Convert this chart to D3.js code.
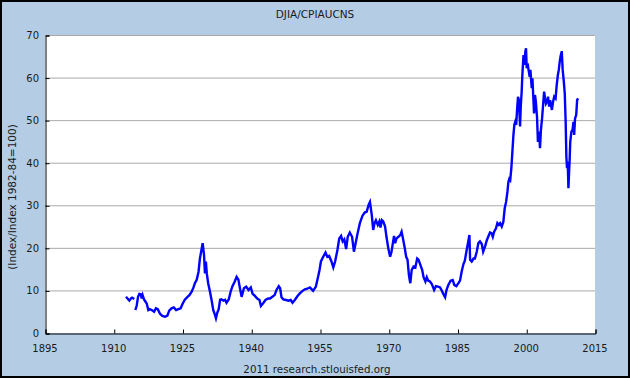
<!DOCTYPE html>
<html>
<head>
<meta charset="utf-8">
<script src="https://cdn.jsdelivr.net/npm/d3@7"></script>
<style>
  body { margin: 0; background: #fff; }
  text { font-family: "DejaVu Sans", Verdana, sans-serif; fill: #1a1a1a; }
</style>
</head>
<body>
<div id="chart"></div>
<script>
// DJIA divided by CPI (fractional years)
const years = [
  1912.67, 1913.0, 1913.4, 1913.8, 1914.0, 1914.49, 1914.6,
  1914.71, 1915.0, 1915.3, 1915.58, 1915.9, 1916.1, 1916.3, 1916.6, 1916.9, 1917.2, 1917.54,
  1917.8, 1918.3, 1918.8, 1919.2, 1919.6, 1920.1, 1920.6, 1921.2, 1921.7, 1922.1, 1922.6,
  1923.1, 1923.6, 1924.1, 1924.6, 1925.0, 1925.5, 1926.1, 1926.5, 1927.0, 1927.4, 1927.7,
  1928.1, 1928.5, 1928.8, 1929.2, 1929.4, 1929.7, 1929.9, 1930.1, 1930.3, 1930.6, 1931.0,
  1931.4, 1931.7, 1932.1, 1932.3, 1932.6, 1932.9, 1933.2, 1933.5, 1933.9, 1934.3, 1934.6,
  1935.1, 1935.5, 1935.9, 1936.4, 1936.8, 1937.2, 1937.5,
  1937.9, 1938.4, 1938.9, 1939.4, 1939.9, 1940.3, 1940.8, 1941.3, 1941.8, 1942.1, 1942.6,
  1943.1, 1943.7, 1944.1, 1944.6, 1945.1, 1945.5, 1946.0, 1946.3, 1946.6, 1947.0, 1947.6,
  1948.1, 1948.6, 1949.0, 1949.5, 1950.1, 1950.6, 1951.2, 1951.7, 1952.2, 1952.8, 1953.2,
  1953.5, 1954.1, 1954.5, 1954.9, 1955.2, 1955.7, 1956.2, 1956.6, 1957.0, 1957.5, 1957.9,
  1958.3, 1958.8, 1959.2, 1959.6, 1959.95, 1960.3, 1960.7, 1961.05, 1961.5, 1962.0, 1962.4,
  1962.9, 1963.2, 1963.7, 1964.25, 1964.75, 1965.2, 1965.6, 1965.9,
  1966.3, 1966.6, 1966.9, 1967.2, 1967.6, 1967.95, 1968.2, 1968.5, 1968.8, 1969.2, 1969.5,
  1969.9, 1970.3, 1970.6, 1970.9, 1971.15, 1971.4, 1971.7, 1972.1, 1972.5, 1972.8, 1973.1,
  1973.5, 1973.8, 1974.1, 1974.4, 1974.7, 1975.0, 1975.4, 1975.8, 1976.2, 1976.5, 1976.9,
  1977.3, 1977.6, 1978.0, 1978.3, 1978.6, 1979.0, 1979.4, 1979.9, 1980.3, 1980.75, 1981.2,
  1981.5, 1981.9, 1982.3, 1982.6, 1983.0, 1983.5, 1983.95, 1984.3, 1984.75, 1985.2, 1985.55,
  1985.9, 1986.3, 1986.6, 1987.0, 1987.4, 1987.6, 1987.75, 1988.1, 1988.5, 1988.8, 1989.2,
  1989.55, 1989.9, 1990.3, 1990.6, 1991.0, 1991.4, 1991.7, 1992.1, 1992.45, 1992.7, 1993.0,
  1993.4, 1993.7, 1994.0, 1994.3, 1994.65, 1995.0, 1995.3, 1995.6, 1995.9, 1996.1, 1996.3,
  1996.5, 1996.75, 1997.0, 1997.2, 1997.4, 1997.6, 1997.8, 1998.0, 1998.2, 1998.4, 1998.65,
  1998.8, 1999.0, 1999.15, 1999.4, 1999.6, 1999.8, 1999.95, 2000.1, 2000.3, 2000.5, 2000.75,
  2000.9, 2001.2, 2001.35, 2001.55, 2001.7, 2001.9, 2002.1, 2002.35, 2002.55, 2002.8, 2003.0,
  2003.2, 2003.45, 2003.65, 2003.9, 2004.1, 2004.3, 2004.5, 2004.75, 2005.0, 2005.2, 2005.4,
  2005.6, 2005.85, 2006.1, 2006.4, 2006.65, 2006.9, 2007.1, 2007.3, 2007.5, 2007.75, 2007.95,
  2008.2, 2008.4, 2008.6, 2008.75, 2008.9, 2009.05, 2009.2, 2009.35, 2009.45, 2009.6, 2009.85,
  2010.1, 2010.3, 2010.45, 2010.65, 2010.9, 2011.1, 2011.3
];
const values = [
  8.5, 8.1, 7.6, 8.2, 8.3, 8.0, null,
  5.4, 6.4, 8.5, 9.2, 9.1, 8.1, 8.9, 7.9, 7.4, 6.9, 5.4,
  5.6, 5.4, 5.0, 5.8, 5.6, 4.5, 4.0, 3.8, 4.1, 5.25, 5.8,
  6.0, 5.4, 5.6, 5.8, 6.8, 7.8, 8.5, 8.9, 9.7, 10.7, 11.7,
  12.5, 14.4, 17.5, 19.9, 21.1, 18.3, 14.0, 16.8, 14.0, 11.7, 9.7,
  7.4, 5.4, 4.2, 3.45, 4.8, 5.6, 7.8, 7.9, 7.6, 7.8, 7.1,
  7.9, 9.7, 11.0, 12.1, 13.2, 12.5, 10.7,
  8.5, 10.5, 10.9, 10.1, 10.7, 9.2, 8.7, 8.1, 7.75, 6.35, 7.0,
  7.75, 8.1, 8.1, 8.5, 8.9, 10.1, 11.0, 10.5, 8.4, 7.9, 7.75,
  7.6, 7.75, 7.1, 7.75, 8.7, 9.3, 9.9, 10.25, 10.4, 10.7, 10.25,
  9.9, 10.9, 12.8, 14.8, 16.8, 17.9, 18.9, 17.9, 18.1, 16.8, 15.4,
  16.8, 19.5, 22.2, 22.8, 21.5, 22.0, 19.7, 22.6, 23.6, 22.6, 19.1,
  21.8, 23.4, 25.8, 27.5, 28.3, 28.5, 30.1, 30.8,
  27.7, 24.2, 25.8, 26.5, 25.4, 26.2, 24.8, 26.5, 26.2, 25.0, 22.6,
  19.9, 17.9, 19.1, 21.1, 22.8, 21.1, 22.2, 22.6, 23.0, 23.8, 22.2,
  19.9, 17.9, 17.2, 13.6, 11.7, 14.8, 15.6, 15.4, 17.5, 17.2, 16.0,
  14.8, 13.1, 12.1, 13.1, 12.3, 12.1, 11.5, 10.1, 11.0, 10.9, 10.7,
  10.1, 9.2, 8.4, 10.1, 11.3, 12.3, 12.45, 11.3, 11.0, 11.7, 12.3,
  14.4, 16.2, 17.0, 19.5, 21.8, 23.0, 17.2, 16.8, 17.5, 17.5, 19.1,
  21.1, 21.5, 20.9, 19.1, 20.3, 21.8, 22.6, 23.6, 23.4, 22.6, 23.8,
  24.6, 25.8, 25.4, 25.8, 25.0, 26.1, 29.3, 30.8, 33.2, 35.5, 36.2,
  35.9, 38.7, 43.0, 46.5, 48.9, 49.6, 48.9, 52.4, 55.5, 54.7, 48.5,
  53.2, 56.7, 60.6, 65.3, 63.0, 66.1, 66.9, 62.2, 63.3, 61.8, 60.2,
  61.8, 57.5, 59.8, 55.1, 51.6, 55.9, 54.3, 50.8, 44.9, 47.3, 43.4,
  47.7, 50.4, 53.2, 56.7, 55.1, 53.9, 54.3, 55.5, 53.2, 54.7, 53.6,
  52.4, 54.3, 55.5, 55.1, 58.3, 60.6, 61.8, 63.7, 65.1, 66.2, 61.8,
  59.0, 56.3, 49.6, 41.4, 38.7, 40.2, 34.0, 37.9, 40.2, 44.9, 47.3,
  47.7, 49.6, 46.5, 50.4, 51.2, 54.7, 55.1
];
const xTicks = [1895, 1910, 1925, 1940, 1955, 1970, 1985, 2000, 2015];
const yTicks = [0, 10, 20, 30, 40, 50, 60, 70];

const W = 630, H = 378;
const margin = { top: 35, right: 35, bottom: 45, left: 45 };

const svg = d3.select("#chart").append("svg")
  .attr("width", W)
  .attr("height", H);

// panel background + outer frame
svg.append("rect")
  .attr("x", 1).attr("y", 1)
  .attr("width", W - 2).attr("height", H - 2)
  .attr("fill", "#b4cde5")
  .attr("stroke", "#000")
  .attr("stroke-width", 2);

const x = d3.scaleLinear()
  .domain([1895, 2015])
  .range([margin.left, W - margin.right]);

const y = d3.scaleLinear()
  .domain([0, 70])
  .range([H - margin.bottom, margin.top]);

svg.append("rect")
  .attr("x", x(1895)).attr("y", y(70))
  .attr("width", x(2015) - x(1895))
  .attr("height", y(0) - y(70))
  .attr("fill", "#fff");

// horizontal grid
svg.append("g")
  .selectAll("line")
  .data(yTicks.filter(d => d > 0))
  .join("line")
  .attr("x1", x(1895)).attr("x2", x(2015))
  .attr("y1", d => y(d) + 0.5).attr("y2", d => y(d) + 0.5)
  .attr("stroke", "#aaa")
  .attr("stroke-width", 1);

// y axis
const yAxis = svg.append("g")
  .attr("transform", `translate(${x(1895) + 0.5},0.5)`)
  .call(d3.axisRight(y).tickValues(yTicks).tickSize(4).tickFormat(""));
yAxis.select(".domain").attr("stroke", "#000");
yAxis.selectAll(".tick line").attr("stroke", "#000");

svg.append("g")
  .selectAll("text")
  .data(yTicks)
  .join("text")
  .attr("x", x(1895) - 6)
  .attr("y", d => y(d) + 4)
  .attr("text-anchor", "end")
  .attr("font-size", 10)
  .text(d => d);

// x axis, ticks pointing up into the plot
const xAxis = svg.append("g")
  .attr("transform", `translate(0.5,${y(0) + 0.5})`)
  .call(d3.axisTop(x).tickValues(xTicks).tickSize(4).tickFormat(""));
xAxis.select(".domain").attr("stroke", "#000");
xAxis.selectAll(".tick line").attr("stroke", "#000");

svg.append("g")
  .selectAll("text")
  .data(xTicks)
  .join("text")
  .attr("x", d => x(d))
  .attr("y", y(0) + 19)
  .attr("text-anchor", "middle")
  .attr("font-size", 10)
  .text(d => d);

// the series
const pts = years.map((yr, i) => ({ yr, v: values[i] }));
const line = d3.line()
  .defined(d => d.v !== null)
  .x(d => x(d.yr))
  .y(d => y(d.v));

svg.append("path")
  .datum(pts)
  .attr("d", line)
  .attr("fill", "none")
  .attr("stroke", "#0000ff")
  .attr("stroke-width", 2.4)
  .attr("stroke-linejoin", "miter");

// titles
svg.append("text")
  .attr("x", 315).attr("y", 18)
  .attr("text-anchor", "middle")
  .attr("font-size", 10.5)
  .text("DJIA/CPIAUCNS");

svg.append("text")
  .attr("transform", "translate(16,197) rotate(-90)")
  .attr("text-anchor", "middle")
  .attr("font-size", 10.5)
  .text("(Index/Index 1982-84=100)");

svg.append("text")
  .attr("x", 317).attr("y", 373)
  .attr("text-anchor", "middle")
  .attr("font-size", 10.3)
  .text("2011 research.stlouisfed.org");
</script>
</body>
</html>
